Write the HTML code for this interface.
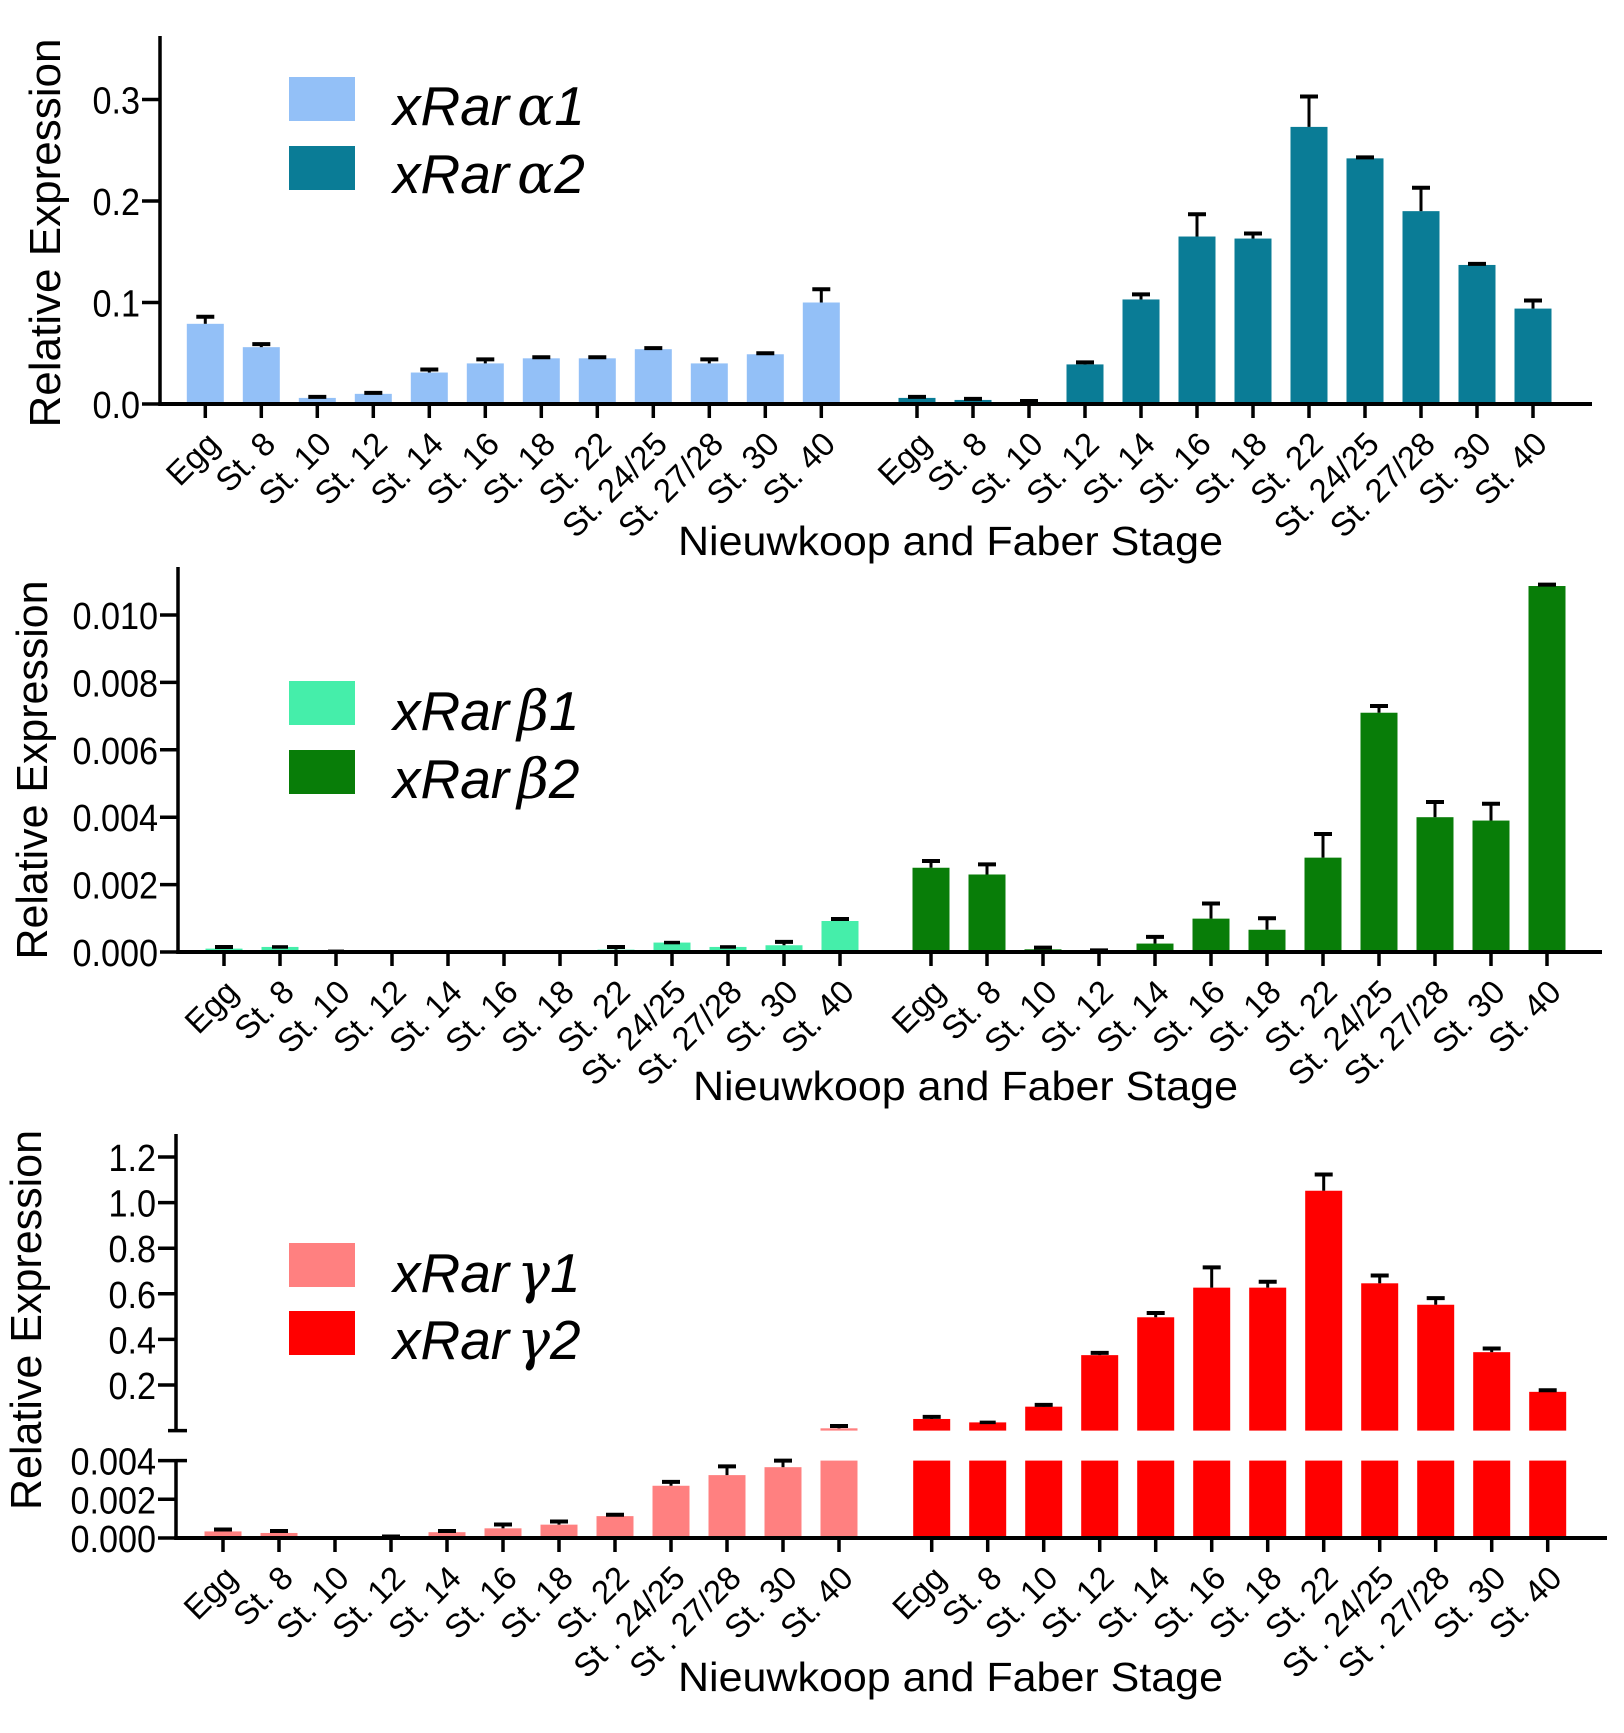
<!DOCTYPE html>
<html><head><meta charset="utf-8">
<style>
html,body{margin:0;padding:0;background:#fff;}
svg{display:block;font-family:"Liberation Sans",Arial,sans-serif;}
</style></head>
<body>
<svg id="chart" width="1624" height="1733" viewBox="0 0 1624 1733" xmlns="http://www.w3.org/2000/svg"></svg>
<script>
const categories = ["Egg","St. 8","St. 10","St. 12","St. 14","St. 16","St. 18","St. 22","St. 24/25","St. 27/28","St. 30","St. 40"];
const categories3 = ["Egg","St. 8","St. 10","St. 12","St. 14","St. 16","St. 18","St. 22","St . 24/25","St . 27/28","St. 30","St. 40"];

// Panel A (alpha)
const alpha1 = [0.079,0.056,0.006,0.010,0.031,0.040,0.045,0.045,0.054,0.040,0.049,0.100];
const alpha1Err = [0.007,0.003,0.001,0.001,0.003,0.004,0.001,0.001,0.001,0.004,0.001,0.013];
const alpha2 = [0.006,0.004,0.002,0.039,0.103,0.165,0.163,0.273,0.242,0.190,0.137,0.094];
const alpha2Err = [0.001,0.001,0.001,0.002,0.005,0.022,0.005,0.030,0.001,0.023,0.001,0.008];
const alphaTicks = [0.0,0.1,0.2,0.3];
const alphaTickLabels = ["0.0","0.1","0.2","0.3"];

// Panel B (beta)
const beta1 = [0.0001,0.00015,0.00002,0,0,0,0,0.00007,0.00028,0.00015,0.0002,0.00092];
const beta1Err = [0.00005,0,0,0,0,0,0,0.00008,0,0,0.0001,0.00006];
const beta2 = [0.0025,0.0023,0.00008,0.00001,0.00025,0.00099,0.00066,0.0028,0.0071,0.0040,0.0039,0.01086];
const beta2Err = [0.0002,0.0003,0.00005,0.00004,0.0002,0.00045,0.00034,0.0007,0.0002,0.00045,0.0005,0.00004];
const betaTicks = [0,0.002,0.004,0.006,0.008,0.010];
const betaTickLabels = ["0.000","0.002","0.004","0.006","0.008","0.010"];

// Panel C (gamma) - broken axis
const gamma1 = [0.00034,0.00026,0,0.00002,0.0003,0.0005,0.00069,0.00113,0.0027,0.00325,0.00366,0.01];
const gamma1Err = [0.0001,0.0001,0,0.00006,0.00006,0.0002,0.00016,0.00007,0.0002,0.00045,0.00034,0.01];
const gamma2 = [0.051,0.036,0.105,0.331,0.497,0.627,0.627,1.052,0.646,0.552,0.344,0.170];
const gamma2Err = [0.009,0,0.008,0.010,0.019,0.089,0.026,0.071,0.034,0.029,0.016,0.007];
const gammaUpperTicks = [0.2,0.4,0.6,0.8,1.0,1.2];
const gammaUpperLabels = ["0.2","0.4","0.6","0.8","1.0","1.2"];
const gammaLowerTicks = [0,0.002,0.004];
const gammaLowerLabels = ["0.000","0.002","0.004"];

const svg = document.getElementById('chart');
const NS = "http://www.w3.org/2000/svg";
function mk(tag, attrs, parent){
  const e = document.createElementNS(NS, tag);
  for (const k in attrs) e.setAttribute(k, attrs[k]);
  (parent||svg).appendChild(e);
  return e;
}
function line(x1,y1,x2,y2,w,parent){
  return mk('line',{x1:x1,y1:y1,x2:x2,y2:y2,stroke:'#000','stroke-width':w||3.5},parent);
}
const BW = 37;

function xLabels(g, labels, x0, step, base){
  labels.forEach((lab,i)=>{
    const tx = x0 + i*step + 16, ty = base + 42;
    const t = mk('text',{x:tx, y:ty, 'font-size':33, 'text-anchor':'end', transform:`rotate(-45 ${tx} ${ty})`}, g);
    t.textContent = lab;
    
    
  });
}
function yLabel(g, x, y, s){
  const t = mk('text',{x:x,y:y,'font-size':38,'text-anchor':'end',transform:`translate(${x} 0) scale(0.9 1) translate(${-x} 0)`},g);
  t.textContent = s;
  
  
}
function errBar(g, cx, yTop, yErr){
  if (yErr >= yTop - 0.5) { line(cx-8,yTop,cx+8,yTop,3.5,g); return; }
  line(cx, yTop, cx, yErr, 3, g);
  line(cx-9, yErr, cx+9, yErr, 4, g);
}
function legend(g, y1, y2, c1, c2, greek, base1, base2){
  const r1 = mk('rect',{x:289,y:y1,width:66,height:44,fill:c1},g);
  
  
  const r2 = mk('rect',{x:289,y:y2,width:66,height:44,fill:c2},g);
  
  
  [[base1,'1'],[base2,'2']].forEach(([b,n])=>{
    const t = mk('text',{x:393,y:b,'font-size':55,'font-style':'italic'},g);
    
    
    const a = mk('tspan',{},t); a.textContent = 'xRar';
    const c = mk('tspan',{dx:8,'font-family':'"DejaVu Serif","Liberation Serif",serif'},t); c.textContent = greek;
    const d = mk('tspan',{},t); d.textContent = n;
  });
}
function yTitle(g, cx, cy, len){
  const t = mk('text',{x:cx,y:cy,'font-size':44,'text-anchor':'middle',textLength:len,lengthAdjust:'spacingAndGlyphs',transform:`rotate(-90 ${cx} ${cy})`},g);
  t.textContent = 'Relative Expression';
  
  
}
function xTitle(g, x, y){
  const t = mk('text',{x:x,y:y,'font-size':41,textLength:545,lengthAdjust:'spacingAndGlyphs'},g);
  t.textContent = 'Nieuwkoop and Faber Stage';
  
  
}

function panel(opt){
  const g = mk('g',{});
  
  
  const yScale = v => opt.base - v*opt.pxPerUnit;
  const x1 = i => opt.g1x + i*56;
  const x2 = i => opt.g2x + i*56;
  opt.s1.forEach((v,i)=>{
    const y = yScale(v);
    const r = mk('rect',{x:x1(i)-BW/2,y:y,width:BW,height:opt.base-y,fill:opt.c1},g);
    
    
    if (opt.e1[i]>0 || v>0) errBar(g, x1(i), y, yScale(v+opt.e1[i]));
  });
  opt.s2.forEach((v,i)=>{
    const y = yScale(v);
    const r = mk('rect',{x:x2(i)-BW/2,y:y,width:BW,height:opt.base-y,fill:opt.c2},g);
    
    
    errBar(g, x2(i), y, yScale(v+opt.e2[i]));
  });
  const ya = line(opt.ax, opt.top, opt.ax, opt.base+1.75, 3.5, g);
  
  const xa = line(opt.ax-1.75, opt.base, opt.xend, opt.base, 4, g);
  
  opt.ticks.forEach((v,i)=>{
    const y = yScale(v);
    line(opt.ax-18, y, opt.ax, y, 3.5, g);
    yLabel(g, opt.ax-20, y+14, opt.tickLabels[i]);
  });
  categories.forEach((c,i)=>{ line(x1(i),opt.base,x1(i),opt.base+14,3.5,g); line(x2(i),opt.base,x2(i),opt.base+14,3.5,g); });
  xLabels(g, opt.labels, opt.g1x, 56, opt.base);
  xLabels(g, opt.labels, opt.g2x, 56, opt.base);
  return g;
}

const gA = panel({name:'panel-alpha', key:'alpha', s1:alpha1, e1:alpha1Err, s2:alpha2, e2:alpha2Err,
  c1:'#93c0f7', c2:'#0a7c96', base:404, pxPerUnit:1015, ax:160, top:36, xend:1592,
  g1x:205.3, g2x:917, ticks:alphaTicks, tickLabels:alphaTickLabels, labels:categories});
legend(gA, 77, 146, '#93c0f7', '#0a7c96', 'α', 125, 193);
yTitle(gA, 60, 233, 389);
xTitle(gA, 678, 555);

const gB = panel({name:'panel-beta', key:'beta', s1:beta1, e1:beta1Err, s2:beta2, e2:beta2Err,
  c1:'#45eeaa', c2:'#087d08', base:952, pxPerUnit:33700, ax:178, top:567, xend:1602,
  g1x:224, g2x:931, ticks:betaTicks, tickLabels:betaTickLabels, labels:categories});
legend(gB, 681, 750, '#45eeaa', '#087d08', 'β', 730, 798);
yTitle(gB, 47, 770, 379);
xTitle(gB, 693, 1100);

(function(){
  const g = mk('g',{});
  
  
  const ax = 176, base = 1538, lowTop = 1460.6, upBase = 1430.6;
  const yLow = v => base - Math.min(v,0.004)*19350;
  const yUp = v => upBase - v*228;
  const x1 = i => 223 + i*56;
  const x2 = i => 931.7 + i*56;
  function drawSeries(vals, errs, xf, color, key){
    vals.forEach((v,i)=>{
      const yl = yLow(v);
      const r = mk('rect',{x:xf(i)-BW/2,y:yl,width:BW,height:base-yl,fill:color},g);
      
      
      if (v > 0.004) {
        const yu = yUp(v);
        const r2 = mk('rect',{x:xf(i)-BW/2,y:yu,width:BW,height:upBase-yu,fill:color},g);
        
        
        errBar(g, xf(i), yu, yUp(v+errs[i]));
      } else if (v > 0 || errs[i] > 0) {
        errBar(g, xf(i), yl, yLow(v+errs[i]));
      }
    });
  }
  drawSeries(gamma1, gamma1Err, x1, '#ff8080', 'gamma1');
  drawSeries(gamma2, gamma2Err, x2, '#ff0000', 'gamma2');
  const ua = line(ax, 1134, ax, upBase, 3.5, g);
  
  line(168, upBase, 187, upBase, 3.5, g);
  gammaUpperTicks.forEach((v,i)=>{
    const y = yUp(v);
    line(ax-18, y, ax, y, 3.5, g);
    yLabel(g, ax-20, y+14, gammaUpperLabels[i]);
  });
  const la = line(ax, lowTop, ax, base+1.75, 3.5, g);
  
  line(ax, lowTop, 187, lowTop, 3.5, g);
  gammaLowerTicks.forEach((v,i)=>{
    const y = yLow(v);
    line(ax-18, y, ax, y, 3.5, g);
    yLabel(g, ax-20, y+14, gammaLowerLabels[i]);
  });
  const xa = line(ax-1.75, base, 1607, base, 4, g);
  
  categories3.forEach((c,i)=>{ line(x1(i),base,x1(i),base+14,3.5,g); line(x2(i),base,x2(i),base+14,3.5,g); });
  xLabels(g, categories3, 223, 56, base);
  xLabels(g, categories3, 931.7, 56, base);
  legend(g, 1243, 1311, '#ff8080', '#ff0000', 'γ', 1292, 1359);
  yTitle(g, 41, 1320, 380);
  xTitle(g, 678, 1691);
})();
</script>
</body></html>
